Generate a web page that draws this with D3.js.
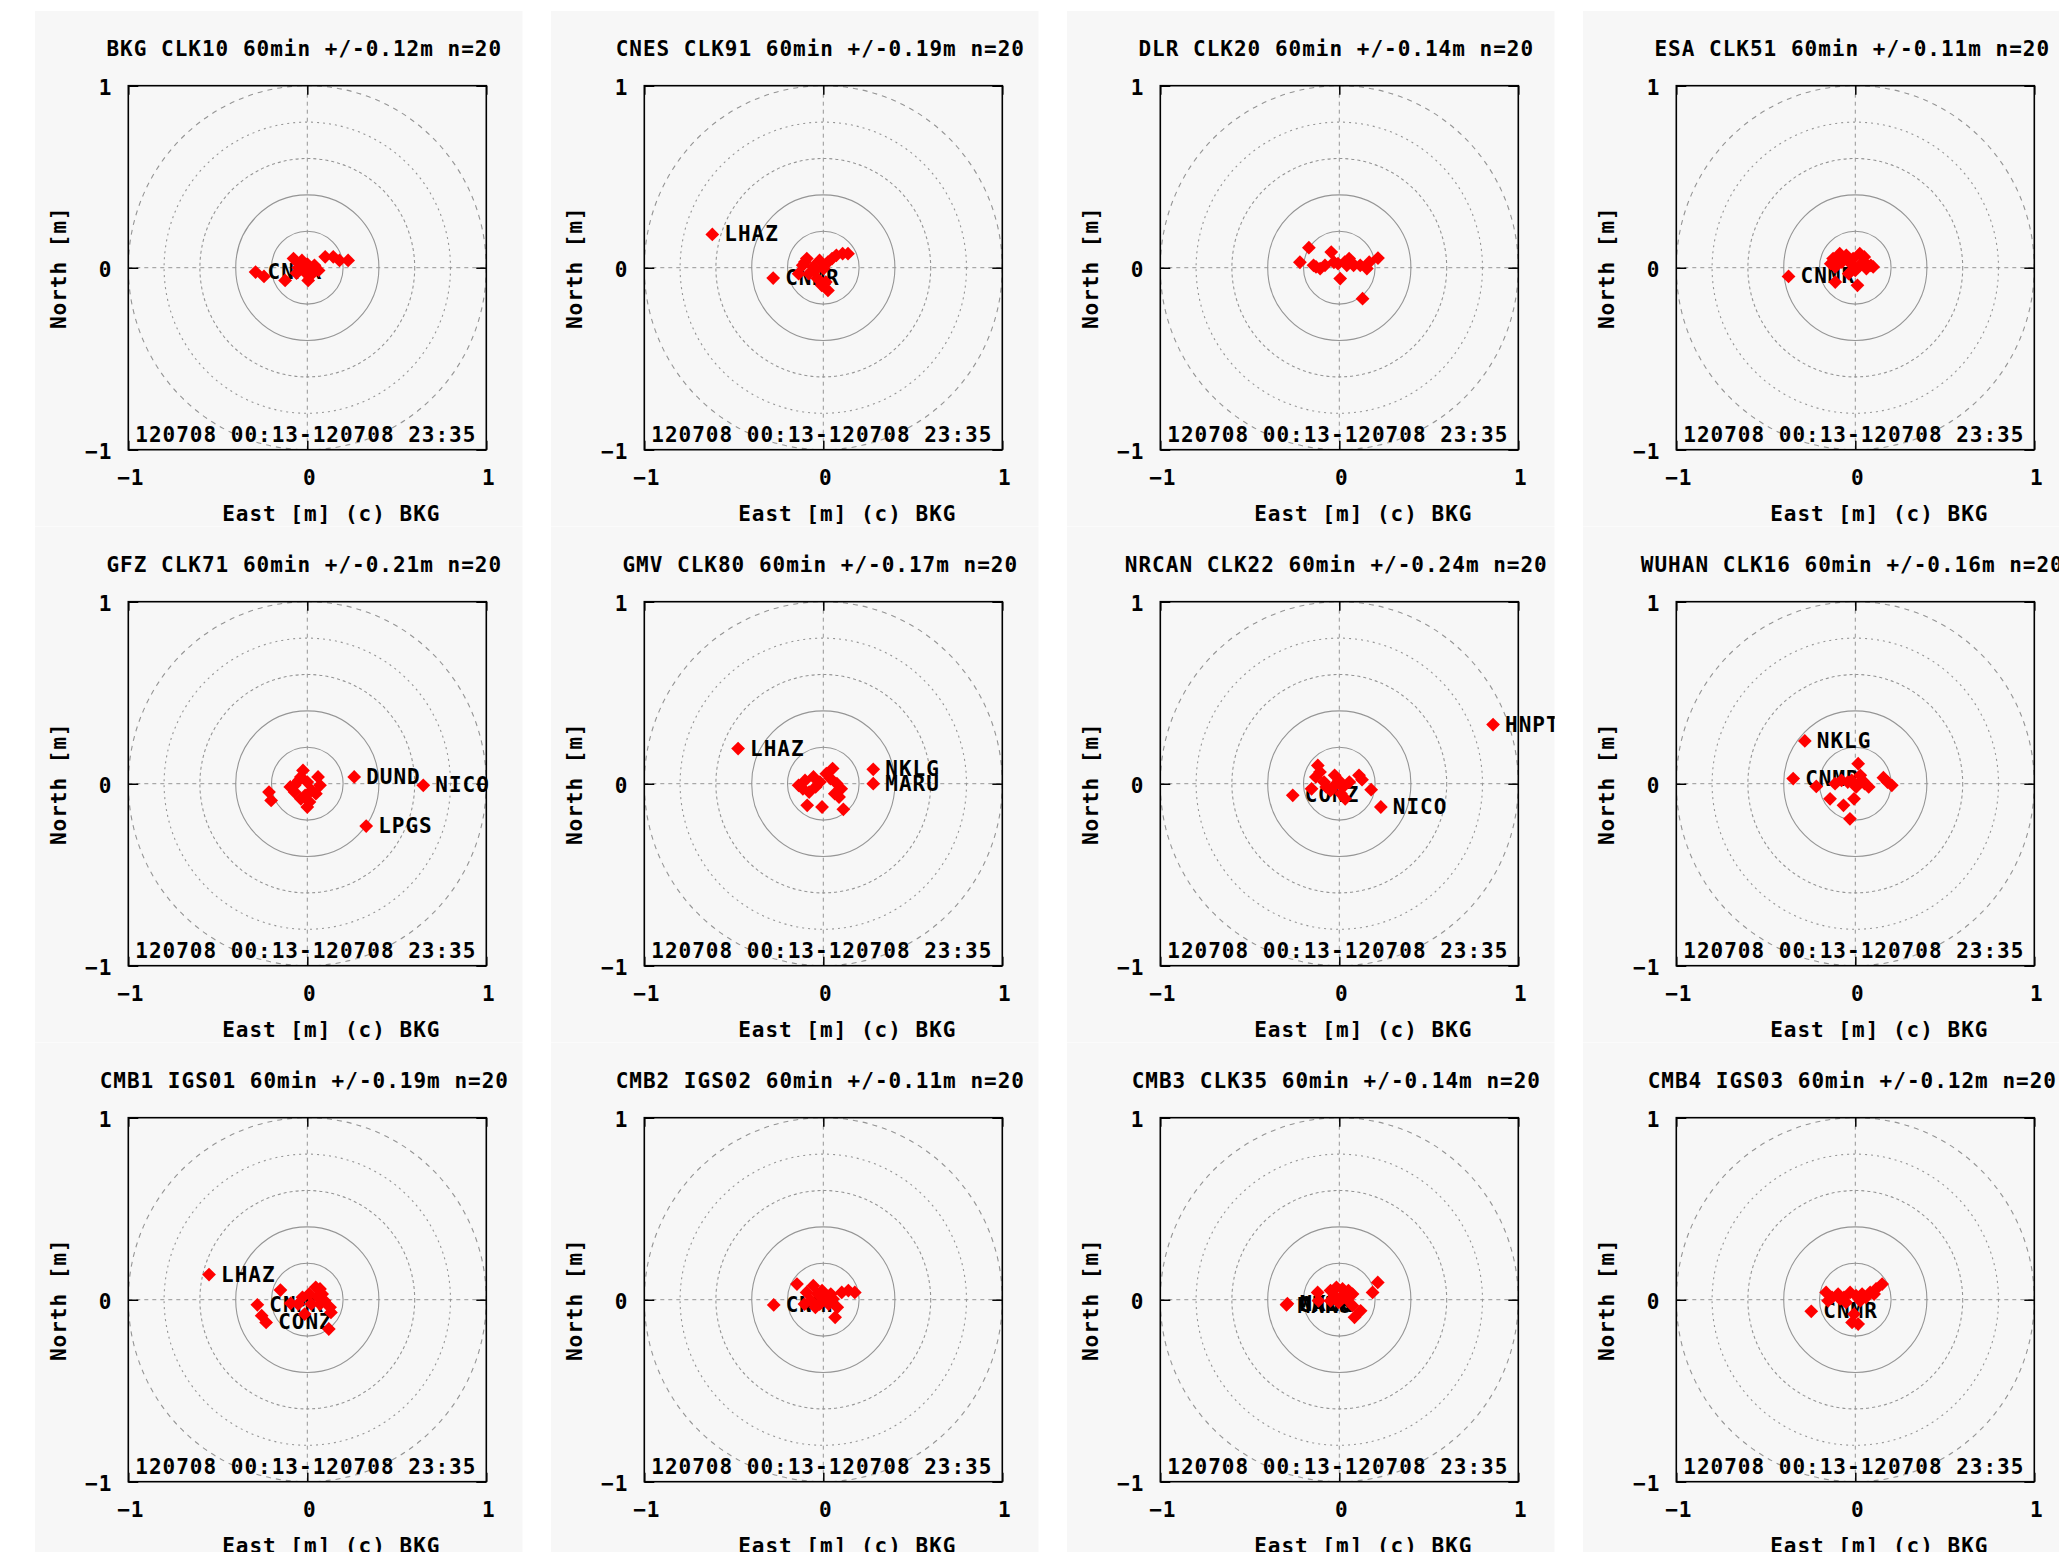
<!DOCTYPE html>
<html>
<head>
<meta charset="utf-8">
<script src="https://cdn.jsdelivr.net/npm/d3@7"></script>
<style>
  body { margin: 0; background: #ffffff; }
  text { font-family: "DejaVu Sans Mono", monospace; font-weight: bold; font-size: 21px; letter-spacing: 1px; fill: #000; }
</style>
</head>
<body>
<svg id="chart"></svg>
<script>
// panel titles, row by row
const titles = [
  "BKG CLK10 60min +/-0.12m n=20",
  "CNES CLK91 60min +/-0.19m n=20",
  "DLR CLK20 60min +/-0.14m n=20",
  "ESA CLK51 60min +/-0.11m n=20",
  "GFZ CLK71 60min +/-0.21m n=20",
  "GMV CLK80 60min +/-0.17m n=20",
  "NRCAN CLK22 60min +/-0.24m n=20",
  "WUHAN CLK16 60min +/-0.16m n=20",
  "CMB1 IGS01 60min +/-0.19m n=20",
  "CMB2 IGS02 60min +/-0.11m n=20",
  "CMB3 CLK35 60min +/-0.14m n=20",
  "CMB4 IGS03 60min +/-0.12m n=20"
];
const dateLabel = "120708 00:13-120708 23:35";
const xLabel = "East [m] (c) BKG";
const yLabel = "North [m]";
const tickValues = [-1, 0, 1];
const ringRadii = [0.2, 0.4, 0.6, 0.8, 1.0];

// [east, north] in metres
const bkgPts = [[-0.289,-0.024],[-0.242,-0.048],[-0.124,-0.07],[-0.077,0.05],[-0.04,0.02],[-0.02,-0.005],[-0.007,-0.03],[0.005,-0.07],[0.04,0.013],[0.063,-0.015],[0.1,0.06],[0.145,0.06],[0.18,0.04],[0.228,0.04],[-0.05,0.0],[-0.03,0.04],[0.0,0.02],[0.02,-0.04],[-0.06,-0.03],[0.03,0.0]];
const cnesPts = [[-0.62,0.183],[-0.28,-0.057],[-0.115,0.013],[-0.092,0.05],[-0.056,0.004],[-0.021,0.04],[0.002,-0.005],[0.026,0.031],[0.049,0.05],[0.073,0.068],[0.108,0.077],[0.138,0.077],[-0.138,-0.033],[-0.08,-0.033],[-0.033,-0.06],[0.014,-0.079],[0.026,-0.125],[-0.009,-0.097],[-0.103,0.031],[-0.045,-0.015]];
const dlrPts = [[-0.17,0.11],[-0.22,0.03],[-0.144,0.013],[-0.107,-0.005],[-0.08,0.013],[-0.045,0.086],[-0.007,0.022],[0.005,-0.06],[0.03,0.03],[0.055,0.05],[0.08,0.013],[0.117,0.013],[0.154,-0.005],[0.167,0.03],[0.216,0.053],[0.13,-0.17],[0.042,0.013],[0.067,0.03],[-0.13,0.004],[-0.03,0.03]];
const esaPts = [[-0.373,-0.048],[-0.124,0.05],[-0.087,0.077],[-0.05,0.068],[-0.012,0.05],[0.025,0.077],[0.05,0.059],[0.087,0.013],[0.062,-0.005],[0.025,0.013],[-0.025,0.022],[-0.075,0.031],[-0.112,0.004],[0,-0.015],[-0.112,-0.079],[0.012,-0.097],[-0.037,-0.033],[0.05,0.031],[0.1,0.004],[-0.137,0.022]];
const gfzPts = [[-0.214,-0.046],[-0.202,-0.092],[-0.024,0.073],[-0.071,-0.009],[-0.048,0.018],[0,0.009],[0.06,0.037],[0.071,-0.009],[0.024,-0.037],[-0.036,-0.083],[0,-0.128],[-0.012,-0.064],[-0.095,-0.018],[0.012,-0.1],[0.262,0.037],[0.648,-0.009],[0.329,-0.233],[-0.071,-0.046],[0.048,-0.055],[-0.036,0.037]];
const gmvPts = [[-0.476,0.193],[0.279,0.079],[0.279,0.0],[-0.138,-0.009],[-0.102,0.018],[-0.055,0.037],[-0.043,-0.018],[-0.079,-0.046],[0.052,0.083],[0.04,0.028],[0.076,0],[0.1,-0.028],[0.088,-0.073],[-0.09,-0.119],[-0.007,-0.128],[0.112,-0.141],[0.017,0.055],[0.064,-0.055],[-0.114,-0.028],[-0.019,0.009]];
const nrcanPts = [[0.859,0.325],[-0.26,-0.064],[0.232,-0.128],[-0.12,0.1],[-0.131,0.037],[-0.155,-0.028],[-0.085,0.009],[-0.026,0.046],[-0.002,0.018],[0.021,-0.018],[-0.049,-0.037],[0.033,-0.083],[0.11,0.046],[0.127,0.022],[0.178,-0.033],[-0.073,-0.018],[0.056,0.009],[-0.026,-0.009],[-0.108,0.064],[0.009,-0.055]];
const wuhanPts = [[-0.282,0.235],[-0.347,0.028],[0.016,0.11],[-0.02,0.018],[-0.077,0.018],[-0.218,-0.015],[-0.141,-0.083],[-0.066,-0.119],[-0.007,-0.083],[-0.03,-0.193],[0.028,0.046],[0.052,0],[0.075,-0.018],[0.157,0.033],[0.204,-0.009],[0.005,-0.018],[-0.042,0.009],[0.04,0.018],[0.18,0.009],[-0.113,0]];
const cmb1Pts = [[-0.549,0.138],[-0.279,-0.028],[-0.255,-0.088],[-0.23,-0.125],[-0.15,0.053],[-0.093,-0.02],[-0.027,0.013],[-0.051,-0.024],[-0.015,-0.079],[0.047,0.068],[0.071,0.059],[0.083,0.031],[0.059,0.013],[0.096,-0.006],[0.127,-0.042],[0.132,-0.07],[0.12,-0.161],[0.022,-0.024],[0.01,0.031],[0.071,-0.024]];
const cmb2Pts = [[-0.277,-0.029],[-0.147,0.086],[-0.056,0.077],[-0.093,0.04],[-0.032,0.031],[0.005,0.013],[0.042,0.031],[0.103,0.04],[0.14,0.05],[0.176,0.04],[-0.02,-0.024],[0.03,-0.024],[0.066,-0.097],[-0.069,-0.006],[0.017,-0.006],[-0.044,-0.042],[0.054,0.004],[0.078,-0.042],[-0.007,0.05],[-0.105,-0.024]];
const cmb3Pts = [[-0.295,-0.028],[-0.121,0.04],[-0.116,-0.006],[-0.049,0.05],[-0.016,0.068],[0.018,0.059],[0.051,0.05],[0.074,0.031],[-0.027,0.022],[0.007,0.013],[0.04,0.004],[-0.004,-0.015],[-0.049,-0.006],[0.029,0.031],[0.215,0.095],[0.186,0.04],[0.119,-0.061],[0.085,-0.097],[0.074,-0.033],[-0.29,-0.022]];
const cmb4Pts = [[-0.246,-0.064],[-0.163,0.04],[-0.13,0.013],[-0.096,0.031],[-0.063,0.013],[-0.029,0.04],[0.004,0.022],[0.038,0.031],[0.083,0.04],[0.116,0.059],[0.15,0.086],[0.105,0.031],[-0.018,-0.125],[0.016,-0.134],[-0.007,-0.079],[-0.152,-0.006],[-0.052,-0.015],[0.027,-0.006],[0.06,0.013],[-0.085,0.004]];

// station labels: [name, east, north]
const bkgLabels = [["CNMR",-0.289,-0.024]];
const cnesLabels = [["LHAZ",-0.62,0.183],["CNMR",-0.28,-0.057]];
const dlrLabels = [];
const esaLabels = [["CNMR",-0.373,-0.048]];
const gfzLabels = [["DUND",0.262,0.037],["NICO",0.648,-0.009],["LPGS",0.329,-0.233]];
const gmvLabels = [["LHAZ",-0.476,0.193],["NKLG",0.279,0.079],["MARU",0.279,0.0]];
const nrcanLabels = [["HNPT",0.859,0.325],["CONZ",-0.26,-0.064],["NICO",0.232,-0.128]];
const wuhanLabels = [["NKLG",-0.282,0.235],["CNMR",-0.347,0.028]];
const cmb1Labels = [["LHAZ",-0.549,0.138],["CNMR",-0.279,-0.028],["CONZ",-0.23,-0.125]];
const cmb2Labels = [["CNMR",-0.277,-0.029]];
const cmb3Labels = [["CNMR",-0.295,-0.028],["NKLG",-0.29,-0.022],["MARU",-0.3,-0.032]];
const cmb4Labels = [["CNMR",-0.246,-0.064]];

const pointSets = [bkgPts, cnesPts, dlrPts, esaPts, gfzPts, gmvPts, nrcanPts, wuhanPts, cmb1Pts, cmb2Pts, cmb3Pts, cmb4Pts];
const labelSets = [bkgLabels, cnesLabels, dlrLabels, esaLabels, gfzLabels, gmvLabels, nrcanLabels, wuhanLabels, cmb1Labels, cmb2Labels, cmb3Labels, cmb4Labels];

// layout (px)
const width = 2059, height = 1552;
const colPitch = 516, rowPitch = 516;
const plotLeft = 128.3, plotTop = 85.7, plotW = 358, plotH = 364;
const bgDx = -93.6, bgDy = -75, bgW = 488, bgH = 516;
const bgColor = '#f7f7f7';
const gridColor = '#959595';
const ringDash = [null, null, '3,3', '2,4', '5,5'];

const svg = d3.select('#chart')
  .attr('width', width)
  .attr('height', height);

const defs = svg.append('defs');

titles.forEach((title, i) => {
  const col = i % 4;
  const row = Math.floor(i / 4);
  const left = plotLeft + col * colPitch;
  const top = plotTop + row * rowPitch;

  const x = d3.scaleLinear().domain([-1, 1]).range([0, plotW]);
  const y = d3.scaleLinear().domain([-1, 1]).range([plotH, 0]);

  // each panel is clipped to its own background, like a separate image
  defs.append('clipPath').attr('id', 'panel-' + i)
    .append('rect')
    .attr('x', left + bgDx).attr('y', top + bgDy)
    .attr('width', bgW).attr('height', bgH);
  defs.append('clipPath').attr('id', 'plot-' + i)
    .append('rect')
    .attr('width', plotW).attr('height', plotH);

  const outer = svg.append('g').attr('clip-path', `url(#panel-${i})`);
  outer.append('rect')
    .attr('x', left + bgDx).attr('y', top + bgDy)
    .attr('width', bgW).attr('height', bgH)
    .attr('fill', bgColor);

  const g = outer.append('g').attr('transform', `translate(${left},${top})`);

  // rings and zero axes
  const grid = g.append('g').attr('clip-path', `url(#plot-${i})`);
  grid.selectAll('.ring')
    .data(ringRadii)
    .enter()
    .append('ellipse')
    .attr('class', 'ring')
    .attr('cx', x(0))
    .attr('cy', y(0))
    .attr('rx', d => x(d) - x(0))
    .attr('ry', d => y(0) - y(d))
    .attr('fill', 'none')
    .attr('stroke', gridColor)
    .attr('stroke-width', 1.1)
    .attr('stroke-dasharray', (d, k) => ringDash[k]);

  grid.append('line')
    .attr('x1', x(-1)).attr('x2', x(1))
    .attr('y1', y(0)).attr('y2', y(0))
    .attr('stroke', gridColor).attr('stroke-dasharray', '4,4');
  grid.append('line')
    .attr('x1', x(0)).attr('x2', x(0))
    .attr('y1', y(-1)).attr('y2', y(1))
    .attr('stroke', gridColor).attr('stroke-dasharray', '4,4');

  // axes, ticks pointing inwards on all four sides
  const bottom = g.append('g')
    .attr('transform', `translate(0,${plotH})`)
    .call(d3.axisBottom(x).tickValues(tickValues).tickSize(-9).tickPadding(20).tickFormat(d3.format('d')));
  const leftAx = g.append('g')
    .call(d3.axisLeft(y).tickValues(tickValues).tickSize(-10).tickPadding(16).tickFormat(d3.format('d')));
  g.append('g')
    .call(d3.axisTop(x).tickValues(tickValues).tickSize(-9).tickFormat(''));
  g.append('g')
    .attr('transform', `translate(${plotW},0)`)
    .call(d3.axisRight(y).tickValues(tickValues).tickSize(-10).tickFormat(''));

  g.selectAll('.domain').remove();
  g.selectAll('.tick line').attr('stroke', '#000').attr('stroke-width', 1.5);
  g.selectAll('.tick text')
    .attr('font-family', null).attr('font-size', null).attr('fill', '#000');
  bottom.selectAll('text').attr('dx', 2);
  leftAx.selectAll('text').attr('dy', 9);

  // border
  g.append('rect')
    .attr('width', plotW).attr('height', plotH)
    .attr('fill', 'none')
    .attr('stroke', '#000')
    .attr('stroke-width', 1.6);

  // title and axis labels
  g.append('text')
    .attr('x', plotW / 2 - 3).attr('y', -30)
    .attr('text-anchor', 'middle')
    .text(title);
  g.append('text')
    .attr('x', plotW / 2 + 24).attr('y', plotH + 71)
    .attr('text-anchor', 'middle')
    .text(xLabel);
  g.append('text')
    .attr('transform', `translate(-62,${plotH / 2}) rotate(-90)`)
    .attr('text-anchor', 'middle')
    .text(yLabel);

  // station labels, drawn below the points
  g.selectAll('.station')
    .data(labelSets[i])
    .enter()
    .append('text')
    .attr('class', 'station')
    .attr('x', d => x(d[1]) + 12)
    .attr('y', d => y(d[2]) + 7)
    .text(d => d[0]);

  // red diamonds
  g.selectAll('.pt')
    .data(pointSets[i])
    .enter()
    .append('path')
    .attr('class', 'pt')
    .attr('d', d3.symbol(d3.symbolSquare, 95))
    .attr('transform', d => `translate(${x(d[0])},${y(d[1])}) rotate(45)`)
    .attr('fill', '#ff0000');

  g.append('text')
    .attr('x', 7).attr('y', plotH - 7.6)
    .text(dateLabel);
});
</script>
</body>
</html>
